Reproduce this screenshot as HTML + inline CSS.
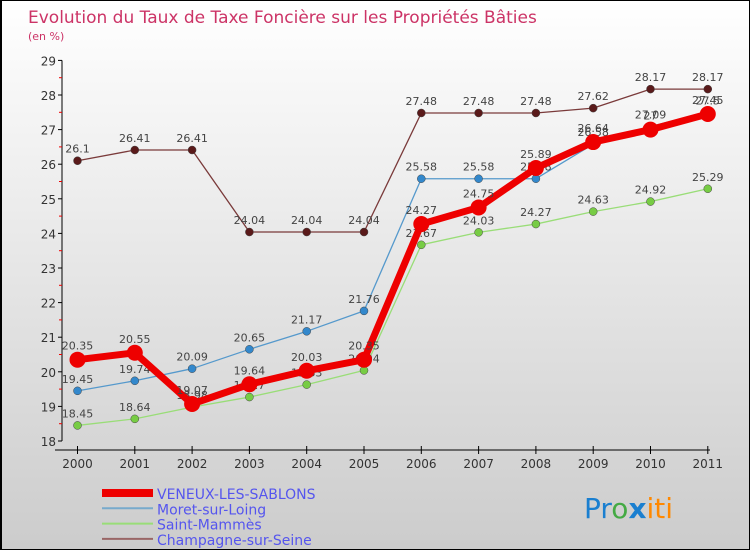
<!DOCTYPE html>
<html><head><meta charset="utf-8"><style>
body{margin:0}
#c{width:750px;height:550px;position:relative;background:linear-gradient(#fff,#ccc);font-family:"DejaVu Sans","Liberation Sans",sans-serif;overflow:hidden;box-sizing:border-box;border:1px solid #000;border-left:2px solid #000}
</style></head><body>
<div id="c">
<svg id="s" width="750" height="550" style="position:absolute;left:0;top:0">
<text x="26" y="22" font-size="17" fill="#cc3366">Evolution du Taux de Taxe Foncière sur les Propriétés Bâties</text>
<text x="26" y="39" font-size="11" fill="#cc3366">(en %)</text>
<g id="g"></g>
<text x="582" y="517" font-size="28" fill="#1a7fd0">Pr<tspan fill="#4a4">o</tspan><tspan fill="#1a7fd0" font-weight="bold">x</tspan><tspan fill="#f80">iti</tspan></text>
</svg>
</div>
<script>
const years=["2000","2001","2002","2003","2004","2005","2006","2007","2008","2009","2010","2011"];
const yTicks=[18,19,20,21,22,23,24,25,26,27,28,29];
const veneux=[20.35,20.55,19.07,19.64,20.03,20.35,24.27,24.75,25.89,26.64,27.0,27.45];
const moret=[19.45,19.74,20.09,20.65,21.17,21.76,25.58,25.58,25.58,26.58,27.09,27.5];
const saint=[18.45,18.64,18.98,19.27,19.63,20.04,23.67,24.03,24.27,24.63,24.92,25.29];
const champ=[26.1,26.41,26.41,24.04,24.04,24.04,27.48,27.48,27.48,27.62,28.17,28.17];
const X=i=>75.5+i*57.3, Y=v=>440-(v-18)*34.6;
const g=document.getElementById('g'),NS='http://www.w3.org/2000/svg';
function mk(t,a,n){const e=document.createElementNS(NS,t);for(const k in a)e.setAttribute(k,a[k]);


g.appendChild(e);return e;}
mk('line',{x1:60,y1:Y(29),x2:60,y2:440,stroke:'#000'},'y-axis');
yTicks.forEach(v=>{mk('line',{x1:56,x2:60,y1:Y(v),y2:Y(v),stroke:'#000'},'y-tick');
if(v<29)mk('line',{x1:57,x2:60,y1:Y(v+0.5),y2:Y(v+0.5),stroke:'#e00'},'y-minor-tick');
const t=mk('text',{x:54,y:Y(v)+5,'font-size':12,fill:'#333','text-anchor':'end'},'y-tick-label');t.textContent=v;});
mk('line',{x1:53,y1:449,x2:708,y2:449,stroke:'#000'},'x-axis');
years.forEach((y,i)=>{mk('line',{x1:X(i),x2:X(i),y1:445,y2:453,stroke:'#000'},'x-tick');
const t=mk('text',{x:X(i),y:467,'font-size':12,fill:'#333','text-anchor':'middle'},'x-tick-label');t.textContent=y;});
const series=[[champ,'#7a3a3a','#5a1a1a',1.3,4,'champagne'],[saint,'#99dd77','#77cc44',1.3,4,'saint-mammes'],[moret,'#5599cc','#3388cc',1.3,4,'moret'],[veneux,'#ee0000','#ee0000',7,8,'veneux']];
series.forEach(([d,c,f,w,r,n])=>{
mk('polyline',{points:d.map((v,i)=>X(i)+','+Y(v)).join(' '),fill:'none',stroke:c,'stroke-width':w,'stroke-linejoin':'round'},n+'-line');
d.forEach((v,i)=>{mk('circle',{cx:X(i),cy:Y(v),r:r,fill:f,stroke:n=='veneux'?'none':'#444','stroke-width':0.5},n+'-point');
const t=mk('text',{x:X(i),y:Y(v)-(n=='veneux'?10:8),'font-size':11,fill:'#444','text-anchor':'middle'},n+'-value');t.textContent=v;});});
const leg=[['VENEUX-LES-SABLONS','#ee0000',8],['Moret-sur-Loing','#77aacc',2],['Saint-Mammès','#99dd77',2],['Champagne-sur-Seine','#996666',2]];
leg.forEach(([l,c,w],i)=>{const y=492+i*15.3;
mk('line',{x1:100,x2:151,y1:y,y2:y,stroke:c,'stroke-width':w},'legend-swatch');
const t=mk('text',{x:155,y:y+6,'font-size':14,fill:'#5555ee'},'legend-label');t.textContent=l;});
</script>
</body></html>
